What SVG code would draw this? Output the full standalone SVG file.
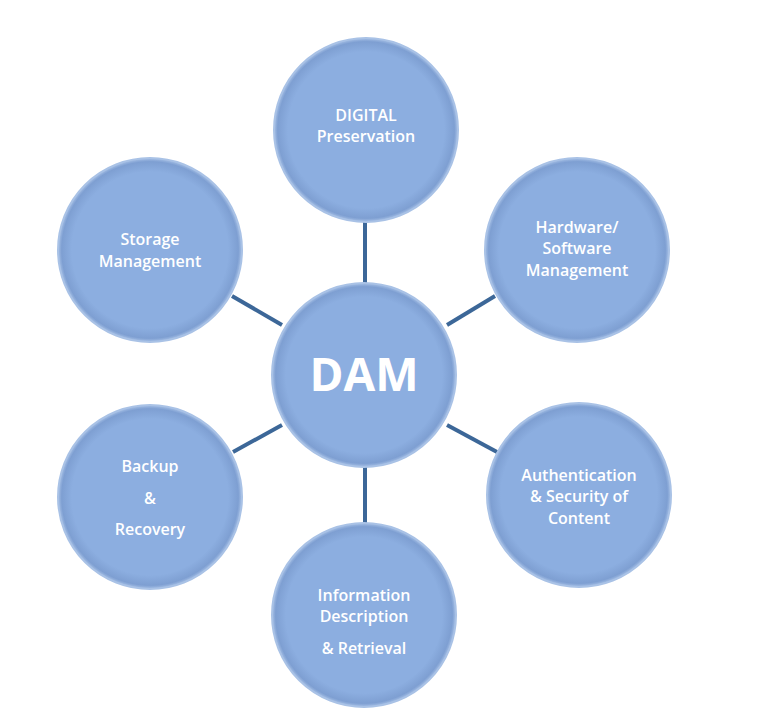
<svg xmlns="http://www.w3.org/2000/svg" width="768" height="725" viewBox="0 0 768 725">
<style>
.c{fill:url(#g);stroke:#a9c2e6;stroke-width:2}
.t{font-family:"Open Sans","Liberation Sans",sans-serif;fill:#fff;font-size:16px;font-weight:600;text-anchor:middle}
.l{stroke:#3c6798;stroke-width:4}
</style>
<defs>
<radialGradient id="g" cx="0.5" cy="0.5" r="0.5">
<stop offset="0.85" stop-color="#8caee0"/>
<stop offset="0.96" stop-color="#7e9fd2"/>
<stop offset="1" stop-color="#a6c0e6"/>
</radialGradient>
</defs>
<rect width="768" height="725" fill="#fff"/>
<g id="connectors">
<line class="l" x1="365" y1="222" x2="365" y2="283"/>
<line class="l" x1="495" y1="296" x2="447" y2="325"/>
<line class="l" x1="232" y1="296" x2="282" y2="325"/>
<line class="l" x1="447" y1="425" x2="497" y2="452"/>
<line class="l" x1="282" y1="425" x2="233" y2="452"/>
<line class="l" x1="365" y1="467" x2="365" y2="523"/>
</g>
<g id="dam"><circle class="c" cx="364" cy="375" r="92"/><text class="t" x="364" y="391" style="font-size:46px;font-weight:700">DAM</text></g>
<g id="digital"><circle class="c" cx="366" cy="130" r="92"/><text class="t" x="366" y="121">DIGITAL</text><text class="t" x="366" y="142">Preservation</text></g>
<g id="hardware"><circle class="c" cx="577" cy="250" r="92"/><text class="t" x="577" y="233">Hardware/</text><text class="t" x="577" y="254">Software</text><text class="t" x="577" y="276">Management</text></g>
<g id="storage"><circle class="c" cx="150" cy="250" r="92"/><text class="t" x="150" y="245">Storage</text><text class="t" x="150" y="267">Management</text></g>
<g id="auth"><circle class="c" cx="579" cy="495" r="92"/><text class="t" x="579" y="481">Authentication</text><text class="t" x="579" y="502">&amp; Security of</text><text class="t" x="579" y="524">Content</text></g>
<g id="backup"><circle class="c" cx="150" cy="497" r="92"/><text class="t" x="150" y="472">Backup</text><text class="t" x="150" y="504">&amp;</text><text class="t" x="150" y="535">Recovery</text></g>
<g id="info"><circle class="c" cx="364" cy="615" r="92"/><text class="t" x="364" y="601">Information</text><text class="t" x="364" y="622">Description</text><text class="t" x="364" y="654">&amp; Retrieval</text></g>
</svg>
